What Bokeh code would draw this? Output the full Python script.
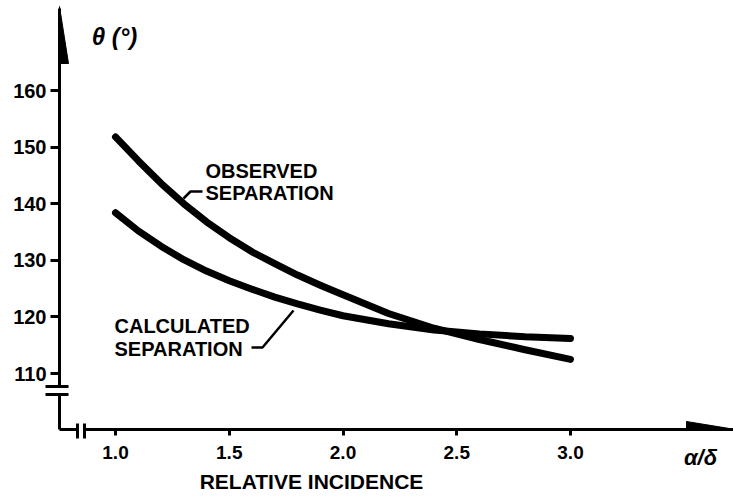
from bokeh.plotting import figure
from bokeh.models import Range1d, FixedTicker, PrintfTickFormatter
from bokeh.core.properties import value
from bokeh.embed import file_html
from bokeh.resources import INLINE

# ---- data ----
rel_incidence = [1.0, 1.1, 1.2, 1.3, 1.4, 1.5, 1.6, 1.7, 1.8, 1.9, 2.0, 2.2, 2.4, 2.6, 2.8, 3.0]
observed_sep = [151.8, 147.6, 143.6, 140.0, 136.8, 134.0, 131.5, 129.4, 127.4, 125.6, 123.9,
                120.6, 118.0, 116.0, 114.2, 112.5]
calculated_sep = [138.4, 135.2, 132.5, 130.1, 128.1, 126.4, 124.9, 123.5, 122.3, 121.2, 120.2,
                  118.8, 117.7, 117.0, 116.5, 116.2]
x_ticks = [1.0, 1.5, 2.0, 2.5, 3.0]
y_ticks = [110, 120, 130, 140, 150, 160]
x_title = "RELATIVE INCIDENCE"
x_symbol = "α/δ"
y_title = "θ (°)"
series_labels = [["OBSERVED", "SEPARATION"], ["CALCULATED", "SEPARATION"]]

# ---- pixel -> data helpers (layout only) ----
def dx(px):
    return 1.0 + (px - 115.0) / 227.5

def dy(py):
    return 110.0 + (373.0 - py) / 5.66

W, H = 733, 499
LEFT, TOP, BOTTOM = 59, 8, 429
FONT = "Liberation Sans"

p = figure(width=W, height=H, output_backend="svg", toolbar_location=None,
           x_range=Range1d(dx(LEFT), dx(W)), y_range=Range1d(dy(BOTTOM), dy(TOP)),
           min_border_left=LEFT, min_border_right=0, min_border_top=TOP,
           min_border_bottom=H - BOTTOM)
p.outline_line_color = None
p.grid.visible = False
p.background_fill_color = "white"
p.border_fill_color = "white"

for ax in (p.xaxis[0], p.yaxis[0]):
    ax.axis_line_width = 3
    ax.axis_line_color = "black"
    ax.major_tick_line_width = 3
    ax.major_tick_line_color = "black"
    ax.minor_tick_line_color = None
    ax.major_tick_in = 0
    ax.major_label_text_font = FONT
    ax.major_label_text_font_style = "bold"
    ax.major_label_text_color = "black"

p.xaxis.ticker = FixedTicker(ticks=x_ticks)
p.xaxis.formatter = PrintfTickFormatter(format="%.1f")
p.xaxis.major_tick_out = 6
p.xaxis.major_label_standoff = 10
p.xaxis.major_label_text_font_size = "19px"
p.yaxis.ticker = FixedTicker(ticks=y_ticks)
p.yaxis.formatter = PrintfTickFormatter(format="%d")
p.yaxis.major_tick_out = 9
p.yaxis.major_label_standoff = 4
p.yaxis.major_label_text_font_size = "20px"

# ---- curves ----
p.line(rel_incidence, observed_sep, line_width=7, line_color="black", line_cap="round", line_join="round")
p.line(rel_incidence, calculated_sep, line_width=7, line_color="black", line_cap="round", line_join="round")

# ---- leader lines ----
p.line([dx(183), dx(190), dx(202)], [dy(198), dy(191), dy(191)], line_width=2.5, line_color="black")
p.line([dx(251), dx(262), dx(293)], [dy(347), dy(347), dy(310)], line_width=2.5, line_color="black")

# ---- axis arrowheads (half barbs) ----
p.patch([dx(59), dx(68), dx(59)], [dy(6), dy(63), dy(63)], color="black", level="overlay")
p.patch([dx(686), dx(686), dx(735)], [dy(421), dy(429), dy(429)], color="black", level="overlay")

# ---- axis breaks ----
p.quad(left=[dx(54)], right=[dx(64)], top=[dy(387)], bottom=[dy(394)], color="white", line_color=None, level="overlay")
p.segment(x0=[dx(45), dx(45)], y0=[dy(386), dy(394)], x1=[dx(68), dx(68)], y1=[dy(386), dy(394)],
          line_width=3, line_color="black", level="overlay")
p.quad(left=[dx(78)], right=[dx(83)], top=[dy(425)], bottom=[dy(434)], color="white", line_color=None, level="overlay")
p.segment(x0=[dx(77), dx(84)], y0=[dy(423), dy(423)], x1=[dx(77), dx(84)], y1=[dy(438), dy(438)],
          line_width=3, line_color="black", level="overlay")

# ---- texts (text glyphs at overlay level so they are not clipped to the frame) ----
def txt(px, py, text, size="20px", style="bold", align="left"):
    p.text(x=[dx(px)], y=[dy(py)], text=[text], text_font=value(FONT), text_font_size=value(size),
           text_font_style=style, text_align=align, text_baseline="middle",
           text_color="black", level="overlay")

txt(205, 170, series_labels[0][0])
txt(205, 192, series_labels[0][1])
txt(114, 325, series_labels[1][0])
txt(114, 348, series_labels[1][1])
txt(311, 481, x_title, size="21px", align="center")
txt(114, 36, y_title, size="24px", style="bold italic", align="center")
txt(700, 457, x_symbol, size="22px", style="bold italic", align="center")

open("out.html", "w").write(file_html(p, INLINE))
